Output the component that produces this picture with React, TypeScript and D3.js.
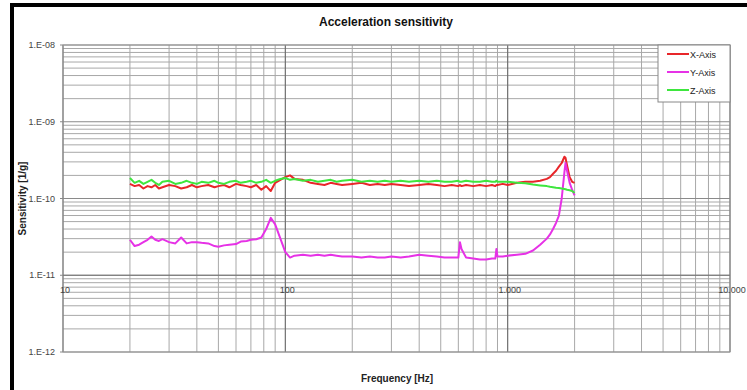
import React from "react";
import * as d3 from "d3";

const freqs = [20, 21, 22, 23, 24, 25, 26, 27, 28, 30, 32, 34, 36, 38, 40, 42, 45, 48, 50, 53, 56, 60, 63, 67, 70, 74, 78, 82, 86, 90, 95, 100, 105, 110, 120, 130, 140, 150, 160, 170, 180, 200, 220, 240, 260, 280, 300, 330, 360, 400, 440, 480, 520, 560, 600, 610, 620, 650, 700, 750, 800, 850, 880, 890, 900, 950, 1000, 1100, 1200, 1300, 1400, 1500, 1550, 1600, 1650, 1700, 1750, 1800, 1820, 1850, 1900, 1950, 2000];

// X-Axis (×1e-10)
const xAxisVals = [1.55, 1.45, 1.5, 1.35, 1.45, 1.4, 1.5, 1.35, 1.4, 1.5, 1.45, 1.35, 1.4, 1.5, 1.4, 1.45, 1.5, 1.4, 1.45, 1.5, 1.4, 1.55, 1.5, 1.45, 1.4, 1.5, 1.3, 1.45, 1.25, 1.6, 1.75, 1.9, 2.0, 1.8, 1.75, 1.6, 1.55, 1.5, 1.6, 1.55, 1.5, 1.55, 1.6, 1.5, 1.55, 1.5, 1.55, 1.5, 1.45, 1.5, 1.55, 1.5, 1.45, 1.5, 1.45, 1.5, 1.45, 1.5, 1.45, 1.5, 1.45, 1.5, 1.45, 1.5, 1.5, 1.55, 1.5, 1.6, 1.65, 1.65, 1.7, 1.8, 1.9, 2.1, 2.3, 2.6, 2.9, 3.5, 3.4, 2.7, 1.9, 1.65, 1.6];

// Y-Axis (×1e-11)
const yAxisVals = [2.9, 2.4, 2.5, 2.7, 2.9, 3.2, 2.9, 2.8, 2.95, 2.7, 2.6, 3.1, 2.6, 2.7, 2.7, 2.65, 2.6, 2.4, 2.35, 2.45, 2.5, 2.55, 2.75, 2.8, 2.9, 2.95, 3.1, 4.0, 5.6, 4.6, 3.0, 2.0, 1.7, 1.8, 1.85, 1.8, 1.85, 1.8, 1.85, 1.8, 1.75, 1.75, 1.7, 1.75, 1.7, 1.7, 1.75, 1.7, 1.75, 1.85, 1.8, 1.75, 1.7, 1.7, 1.7, 2.7, 2.2, 1.7, 1.65, 1.6, 1.6, 1.65, 1.65, 2.2, 1.75, 1.75, 1.8, 1.85, 1.9, 2.1, 2.5, 3.0, 3.4, 4.0, 4.8, 6.0, 10, 22, 29, 23, 16, 13, 11];

// Z-Axis (×1e-10)
const zAxisVals = [1.85, 1.6, 1.7, 1.55, 1.65, 1.75, 1.6, 1.5, 1.65, 1.7, 1.55, 1.6, 1.7, 1.6, 1.55, 1.65, 1.6, 1.7, 1.6, 1.55, 1.65, 1.7, 1.6, 1.65, 1.7, 1.6, 1.65, 1.75, 1.6, 1.7, 1.8, 1.85, 1.75, 1.8, 1.7, 1.75, 1.65, 1.7, 1.75, 1.65, 1.7, 1.75, 1.65, 1.7, 1.65, 1.7, 1.65, 1.7, 1.65, 1.7, 1.65, 1.7, 1.65, 1.65, 1.7, 1.65, 1.65, 1.7, 1.65, 1.65, 1.7, 1.65, 1.65, 1.7, 1.65, 1.65, 1.65, 1.6, 1.58, 1.52, 1.48, 1.45, 1.42, 1.4, 1.38, 1.37, 1.35, 1.33, 1.32, 1.3, 1.28, 1.25, 1.18];

const seriesNames = ["X-Axis", "Y-Axis", "Z-Axis"];
const seriesColors = ["#e8262a", "#e632e6", "#3ee63e"];
const seriesScale = [1e-10, 1e-11, 1e-10];
const seriesVals = [xAxisVals, yAxisVals, zAxisVals];

const yTicks = [1e-8, 1e-9, 1e-10, 1e-11, 1e-12];
const yTickLabels = ["1.E-08", "1.E-09", "1.E-10", "1.E-11", "1.E-12"];
const xTicks = [10, 100, 1000, 10000];
const xTickLabels = ["10", "100", "1.000", "10.000"];

const W = 747, H = 390;
const PL = 63, PR = 730, PT = 45, PB = 352;
const FONT = "'Liberation Sans', Arial, sans-serif";

export default function App() {
  const x = d3.scaleLog().domain([10, 10000]).range([PL, PR]);
  const y = d3.scaleLog().domain([1e-12, 1e-8]).range([PB, PT]);

  const xMinor: number[] = [];
  for (let d = 10; d < 10000; d *= 10) for (let k = 2; k <= 9; k++) xMinor.push(d * k);
  const yMinor: number[] = [];
  for (let d = 1e-12; d < 1e-8 * 0.999; d *= 10) for (let k = 2; k <= 9; k++) yMinor.push(d * k);

  const line = d3
    .line<[number, number]>()
    .x((d) => x(d[0]))
    .y((d) => y(d[1]));

  return (
    <svg width={W} height={H} style={{ position: "absolute", left: 0, top: 0, background: "#fff" }} fontFamily={FONT}>
      <rect x={0} y={0} width={W} height={H} fill="#fff" />
      {/* outer frame */}
      <rect x={10} y={3} width={W - 10} height={4} fill="#000" />
      <rect x={10} y={3} width={4} height={H - 3} fill="#000" />

      <text x={386} y={26} textAnchor="middle" fontSize={12} fontWeight="bold" fill="#111">
        Acceleration sensitivity
      </text>

      {/* grid */}
      {yMinor.map((v, i) => (
        <line key={"ym" + i} x1={PL} x2={PR} y1={y(v)} y2={y(v)} stroke="#a8a8a8" strokeWidth={1} />
      ))}
      {xMinor.map((v, i) => (
        <line key={"xm" + i} x1={x(v)} x2={x(v)} y1={PT} y2={PB} stroke="#a8a8a8" strokeWidth={1} />
      ))}
      {yTicks.map((v, i) => (
        <line key={"yM" + i} x1={PL - 3} x2={PR} y1={y(v)} y2={y(v)} stroke="#8a8a8a" strokeWidth={1} />
      ))}
      {xTicks.map((v, i) => (
        <line key={"xM" + i} x1={x(v)} x2={x(v)} y1={PT} y2={PB} stroke="#6e6e6e" strokeWidth={1.2} />
      ))}
      <rect x={PL} y={PT} width={PR - PL} height={PB - PT} fill="none" stroke="#999" strokeWidth={1} />
      <line x1={PL} x2={PR} y1={y(1e-11)} y2={y(1e-11)} stroke="#777" strokeWidth={1} />

      {/* tick labels */}
      {yTicks.map((v, i) => (
        <text key={"yl" + i} x={55} y={y(v) + 3} textAnchor="end" fontSize={9} fill="#444">
          {yTickLabels[i]}
        </text>
      ))}
      {xTicks.map((v, i) => (
        <text key={"xl" + i} x={x(v) + 2} y={y(1e-11) + 18} textAnchor="middle" fontSize={9} fill="#444">
          {xTickLabels[i]}
        </text>
      ))}

      {/* axis titles */}
      <text
        transform={`translate(26,${(PT + PB) / 2}) rotate(-90)`}
        textAnchor="middle"
        fontSize={10}
        fontWeight="bold"
        fill="#222"
      >
        Sensitivity [1/g]
      </text>
      <text x={397} y={382} textAnchor="middle" fontSize={10} fontWeight="bold" fill="#222">
        Frequency [Hz]
      </text>

      {/* series */}
      {seriesVals.map((vals, si) => (
        <path
          key={"s" + si}
          d={line(freqs.map((f, i) => [f, vals[i] * seriesScale[si]] as [number, number])) || ""}
          fill="none"
          stroke={seriesColors[si]}
          strokeWidth={2}
          strokeLinejoin="round"
        />
      ))}

      {/* legend */}
      <rect x={658} y={45} width={72} height={57} fill="#fff" stroke="#888" strokeWidth={1} />
      {seriesNames.map((n, i) => (
        <g key={"lg" + i}>
          <line x1={667} x2={689} y1={54 + i * 18} y2={54 + i * 18} stroke={seriesColors[i]} strokeWidth={2} />
          <text x={690} y={57.5 + i * 18} fontSize={9} fill="#222">
            {n}
          </text>
        </g>
      ))}
    </svg>
  );
}
